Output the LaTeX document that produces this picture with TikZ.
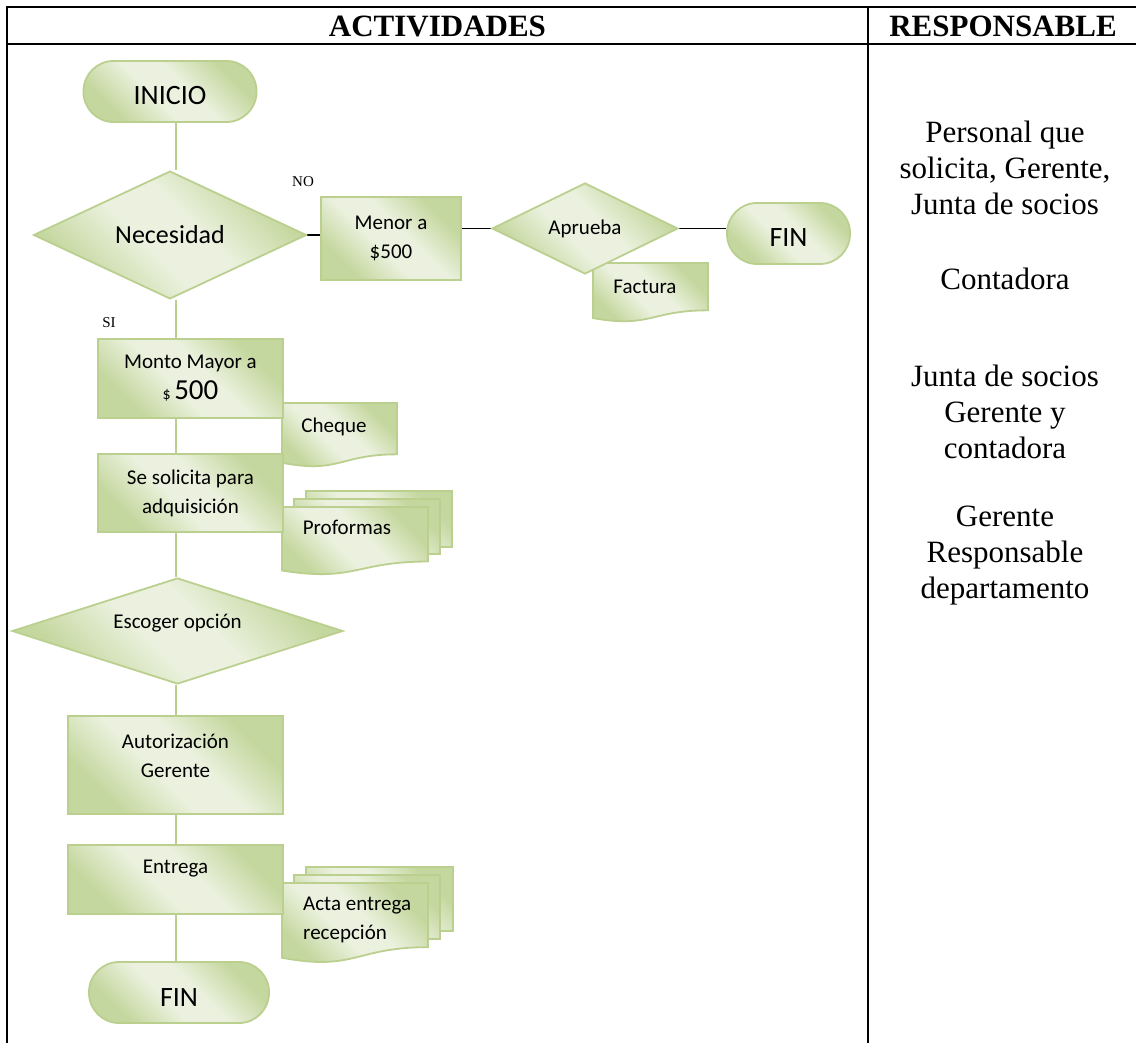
\documentclass[tikz,border=0pt]{standalone}
\usepackage{fontspec}
\setmainfont{Liberation Serif}
\newfontfamily\calib{Carlito}
\usetikzlibrary{shapes.geometric,backgrounds}
\definecolor{gdark}{HTML}{C4D79E}
\definecolor{glight}{HTML}{EBF1DE}
\definecolor{gline}{HTML}{BBD08F}
\pgfdeclarehorizontalshading{greenfx}{100bp}{color(0bp)=(gdark); color(27bp)=(gdark); color(44bp)=(glight); color(56bp)=(glight); color(73bp)=(gdark); color(100bp)=(gdark)}

% document symbol with a wavy bottom: x, y, width, height
\newcommand{\wavedoc}[4]{%
  \path[docshape] (#1,#2) -- ({#1+#3},#2) -- ({#1+#3},{#2+0.802*#4})
    .. controls ({#1+0.5*#3},{#2+0.802*#4}) and ({#1+0.5*#3},{#2+1.1075*#4}) .. (#1,{#2+0.934*#4}) -- cycle;}

\begin{document}
\begin{tikzpicture}[
    x=1pt, y=-1pt,
    fx/.style={draw=gline, line width=1.8, shading=greenfx, shading angle=45},
    proc/.style={fx, rectangle, inner sep=0, align=center, font=\calib\fontsize{21}{29}\selectfont},
    term/.style={proc, rounded corners=30, text height=27pt, font=\calib\fontsize{28}{33}\selectfont},
    decide/.style={fx, diamond, inner sep=0, align=center, font=\calib\fontsize{21}{29}\selectfont},
    docshape/.style={fx},
    doctext/.style={inner sep=0, align=left, font=\calib\fontsize{21}{29}\selectfont},
    lift/.style={inner sep=0, align=center, yshift=#1, font=\calib\fontsize{21}{29}\selectfont},
    resp/.style={inner sep=0, align=center, font=\fontsize{31}{36}\selectfont},
    head/.style={inner sep=0, font=\bfseries\fontsize{31}{35}\selectfont},
    tag/.style={inner sep=0, font=\fontsize{15}{18}\selectfont},
    flow/.style={draw=gline, line width=2.7},
    link/.style={draw=black, line width=1.6}
  ]
    \useasboundingbox (0,0) rectangle (1136,1043);

    % table
    \draw[line width=2.5] (7,1043) -- (7,7) -- (1136,7);
    \draw[line width=2.5] (7,44) -- (1136,44);
    \draw[line width=2] (868,7) -- (868,1043);
    \node[head] (hact) at (437.5,26) {ACTIVIDADES};
    \node[head] (hresp) at (1003,26) {RESPONSABLE};

    % main column
    \coordinate (spine) at (176,0);
    \node[term, minimum width=173, minimum height=61] (inicio) at (170,91.5) {INICIO};
    \node[decide, minimum width=273, minimum height=102, font=\calib\fontsize{26}{30}\selectfont] (necesidad) at (170,235) {Necesidad};
    \node[proc, minimum width=185, minimum height=79] (monto) at (190.5,378.5)
      {Monto Mayor a\\[2pt]{\fontsize{16}{20}\selectfont\$}\,{\fontsize{29}{30}\selectfont 500}};
    \node[proc, minimum width=185, minimum height=78] (solicita) at (190.5,493) {Se solicita para\\adquisición};
    \node[decide, minimum width=331, minimum height=106, label={[lift=7.5]center:Escoger opción}] (escoger) at (177.5,631) {};
    \node[proc, minimum width=215, minimum height=98, label={[lift=9.5]center:Autorización\\Gerente}] (autoriz) at (175.5,765) {};
    \node[proc, minimum width=215, minimum height=69, label={[lift=10.5]center:Entrega}] (entrega) at (175.5,879.5) {};
    \node[term, minimum width=180, minimum height=61] (finb) at (179,992.5) {FIN};

    % branch NO
    \node[proc, minimum width=140, minimum height=83] (menor) at (391,238.5) {Menor a\\\$500};
    \node[decide, minimum width=186, minimum height=83] (aprueba) at (585,228.5) {Aprueba};
    \node[term, minimum width=123, minimum height=61] (finr) at (788.5,233.5) {FIN};
    \node[tag] (no) at (303,182) {NO};
    \node[tag] (si) at (109,323) {SI};

    % documents text
    \node[doctext] (factura) at (645,287) {Factura};
    \node[doctext] (cheque) at (334,427) {Cheque};
    \node[doctext] (proformas) at (347,527) {Proformas};
    \node[doctext, anchor=west] (acta) at (303,919.5) {Acta entrega\\recepción};

    % responsables
    \node[resp] (r1) at (1005,168) {Personal que\\solicita, Gerente,\\Junta de socios};
    \node[resp] (r2) at (1005,279) {Contadora};
    \node[resp] (r3) at (1005,412) {Junta de socios\\Gerente y\\contadora};
    \node[resp] (r4) at (1005,556) {Gerente\\Responsable\\departamento};

    \begin{scope}[on background layer]
      \wavedoc{593}{263}{115}{59}
      \wavedoc{282}{403}{115}{64}
      \path[docshape] (306,491) rectangle (452,547);
      \path[docshape] (294,499) rectangle (440,554);
      \wavedoc{282}{507}{146}{68}
      \path[docshape] (306,867) rectangle (453,931);
      \path[docshape] (294,875) rectangle (440,939);
      \wavedoc{282}{883}{146}{80}

      \draw[flow] (inicio.south -| spine) -- (necesidad.north -| spine);
      \draw[flow] (necesidad.south -| spine) -- (monto.north -| spine);
      \draw[flow] (monto.south -| spine) -- (solicita.north -| spine);
      \draw[flow] (solicita.south -| spine) -- (escoger.north -| spine);
      \draw[flow] (escoger.south -| spine) -- (autoriz.north -| spine);
      \draw[flow] (autoriz.south -| spine) -- (entrega.north -| spine);
      \draw[flow] (entrega.south -| spine) -- (finb.north -| spine);
      \draw[link] (necesidad.east) -- (menor.west |- necesidad.east);
      \draw[link] (menor.east |- aprueba.west) -- (aprueba.west);
      \draw[link] (aprueba.east) -- (finr.west |- aprueba.east);
    \end{scope}
  \end{tikzpicture}
\end{document}
